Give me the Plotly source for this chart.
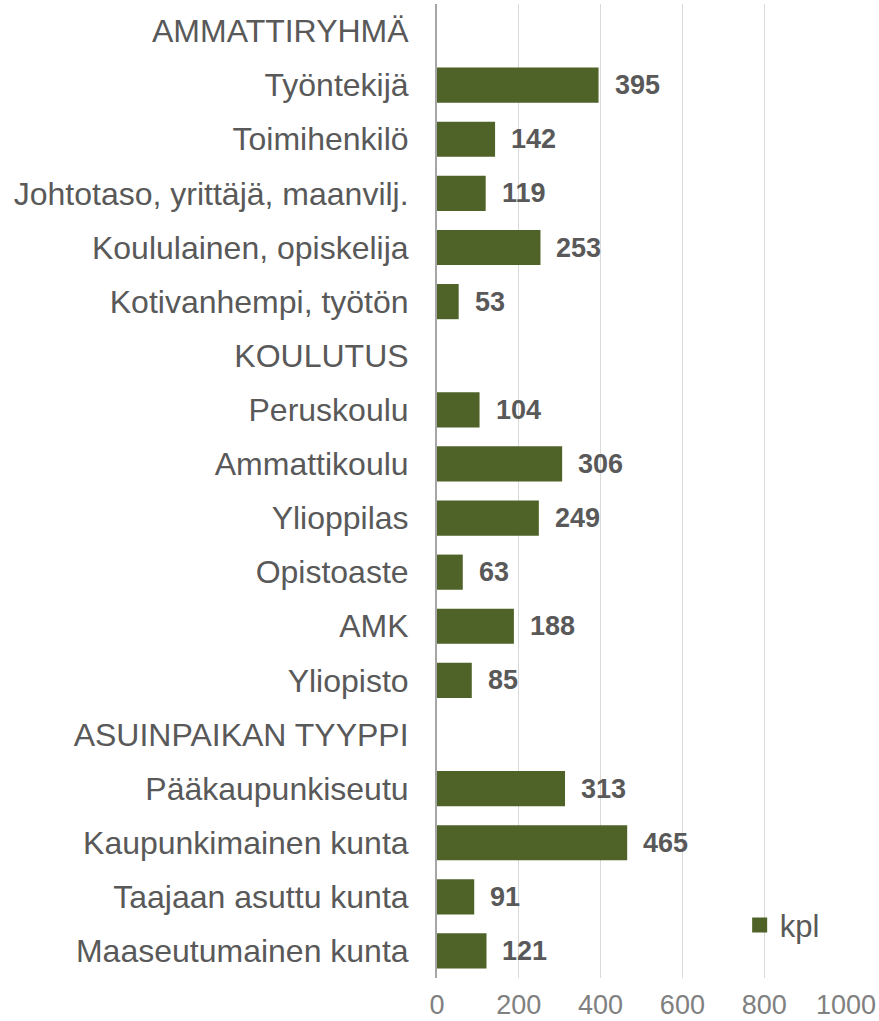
import plotly.graph_objects as go

categories = [
    "AMMATTIRYHMÄ", "Työntekijä", "Toimihenkilö", "Johtotaso, yrittäjä, maanvilj.",
    "Koululainen, opiskelija", "Kotivanhempi, työtön",
    "KOULUTUS", "Peruskoulu", "Ammattikoulu", "Ylioppilas", "Opistoaste", "AMK", "Yliopisto",
    "ASUINPAIKAN TYYPPI", "Pääkaupunkiseutu", "Kaupunkimainen kunta",
    "Taajaan asuttu kunta", "Maaseutumainen kunta",
]
values = [None, 395, 142, 119, 253, 53,
          None, 104, 306, 249, 63, 188, 85,
          None, 313, 465, 91, 121]
tick_vals = [0, 200, 400, 600, 800, 1000]

bar_color = "#4F6228"
text_color = "#595959"
font_family = "Liberation Sans, Arial"

fig = go.Figure()
fig.add_trace(go.Bar(
    x=values, y=categories, orientation="h",
    marker=dict(color=bar_color, line=dict(width=0)),
    showlegend=False,
))
# legend entry drawn as a square marker
fig.add_trace(go.Scatter(
    x=[None], y=[None], mode="markers", name="kpl",
    marker=dict(symbol="square", size=15, color=bar_color),
))

# value labels to the right of the bars
for c, v in zip(categories, values):
    if v is None:
        continue
    fig.add_annotation(x=v, y=c, text=f"<b>{v}</b>", showarrow=False,
                       xanchor="left", xshift=14,
                       font=dict(size=27, color=text_color, family=font_family))

fig.update_layout(
    width=879, height=1021,
    margin=dict(l=437, r=33, t=4, b=43, autoexpand=False),
    plot_bgcolor="white", paper_bgcolor="white",
    bargap=0.35,
    font=dict(family=font_family, color=text_color),
    showlegend=True,
    legend=dict(x=0.74, y=0.054, xanchor="left", yanchor="middle",
                bgcolor="rgba(0,0,0,0)", font=dict(size=31, color=text_color),
                itemwidth=30),
    xaxis=dict(range=[0, 1000], tickvals=tick_vals, showgrid=True,
               gridcolor="#D9D9D9", gridwidth=1, zeroline=False,
               tickfont=dict(size=27, color="#808080"), ticks="",
               ticklabelstandoff=8, automargin=False),
    yaxis=dict(categoryorder="array", categoryarray=categories,
               range=[17.5, -0.5], showline=True, linecolor="#A6A6A6",
               linewidth=2, ticks="", ticklabelstandoff=20, automargin=False,
               tickfont=dict(size=32, color=text_color)),
)

# drop the default page margin so the figure fills the window exactly
fig.write_html("out.html", config={"displayModeBar": False},
               post_script="document.body.style.margin='0';")
